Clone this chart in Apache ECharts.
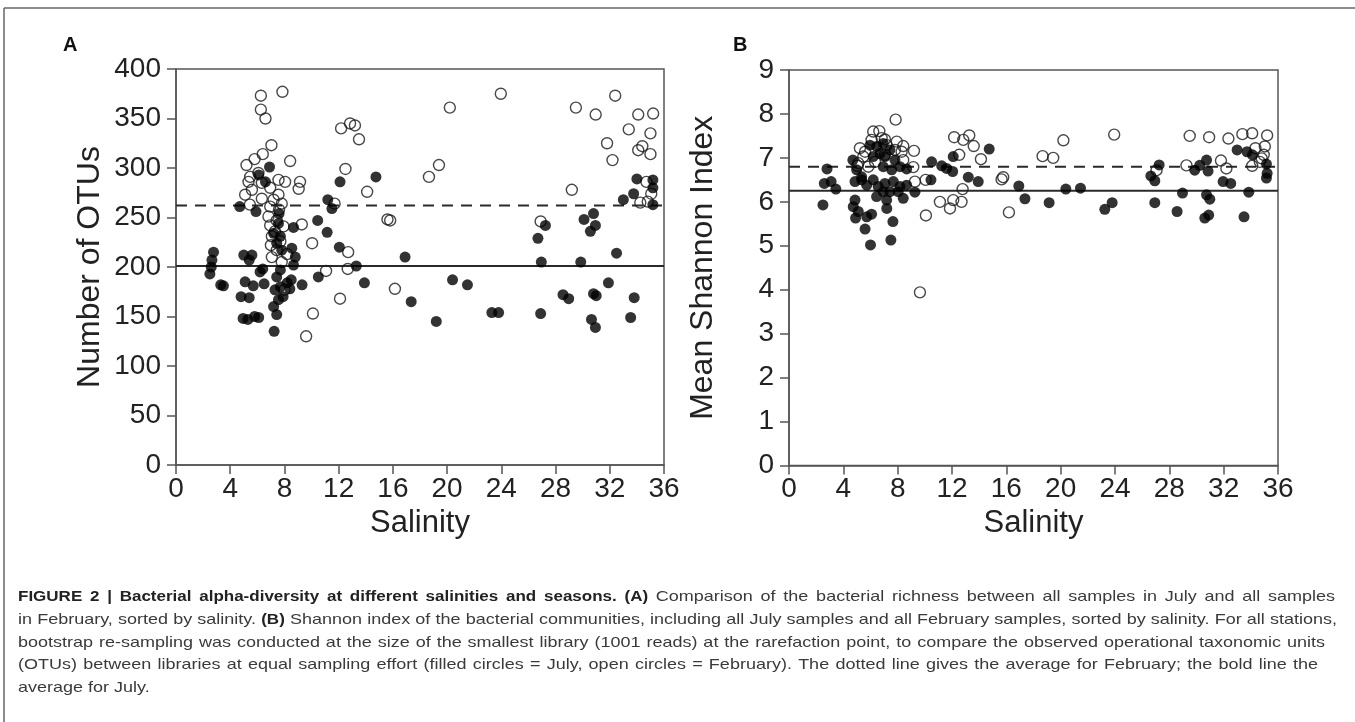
<!DOCTYPE html>
<html>
<head>
<meta charset="utf-8">
<script src="https://cdn.jsdelivr.net/npm/echarts@6/dist/echarts.min.js"></script>
<style>
html,body{margin:0;padding:0;background:#fff;}
#c{width:1355px;height:722px;}
</style>
</head>
<body>
<div id="c"></div>
<script>
// ---------- DATA ----------
const xTicks = [0, 4, 8, 12, 16, 20, 24, 28, 32, 36];
const otuTicks = [0, 50, 100, 150, 200, 250, 300, 350, 400];
const shannonTicks = [0, 1, 2, 3, 4, 5, 6, 7, 8, 9];

// Panel A: number of OTUs  [salinity, OTUs]
const otuJuly = [
  [2.5,193],[2.6,200],[2.65,207],[2.77,215],[3.3,182],[3.5,181],
  [4.7,261],[5.9,256],[5.0,212],[5.6,212],[5.4,207],
  [6.2,195],[6.4,198],[6.5,183],[5.1,185],[5.7,181],[4.8,170],[5.4,169],
  [4.95,148],[5.3,147],[5.8,150],[6.1,149],[7.24,135],
  [6.1,293],[6.9,301],[6.6,286],
  [7.6,254],[7.56,244],[7.2,234],[7.7,231],[7.43,224],[7.8,217],
  [8.54,219],[8.8,210],[8.67,202],[7.7,197],[7.43,190],[7.7,180],[7.3,177],
  [7.56,167],[7.2,160],[7.43,152],[7.9,170],[8.2,184],[8.4,178],[9.3,182],[8.5,187],
  [8.67,240],[10.45,247],[11.15,235],[10.5,190],[11.2,268],[11.5,259],
  [12.1,286],[12.05,220],[13.3,201],[13.9,184],[14.75,291],
  [16.9,210],[17.35,165],[19.2,145],[20.4,187],[21.5,182],[23.3,154],[23.8,154],
  [26.7,229],[27.25,242],[26.95,205],[26.9,153],[28.55,172],[28.97,168],[29.86,205],
  [30.1,248],[30.8,254],[30.57,236],[30.94,242],[30.8,173],[31.0,171],[30.65,147],[30.94,139],
  [31.9,184],[32.5,214],[33.8,169],[33.54,149],[33.0,268],[33.76,274],[34.0,289],
  [35.18,288],[35.18,280],[35.18,263]
];
const otuFeb = [
  [6.26,373],[7.85,377],[6.26,359],[6.6,350],[7.04,323],[6.4,314],[5.8,309],[5.2,303],
  [8.42,307],[5.47,291],[5.35,286],[5.6,278],[5.1,273],[6.33,269],[6.95,280],[7.56,288],
  [8.05,286],[7.56,273],[7.8,264],[6.95,261],[9.15,286],[9.05,279],[5.45,263],[9.28,243],
  [6.82,251],[6.95,242],[7.43,247],[6.33,285],[6.08,295],[7.07,231],[7.43,217],[7.07,210],
  [7.93,241],[7.2,268],[7.6,258],[7.3,236],[7.7,226],[7.0,222],[7.8,205],[8.2,213],
  [10.04,224],[12.7,215],[11.07,196],[12.67,198],[12.1,168],[10.1,153],[9.6,130],[8.0,177],
  [11.7,264],[12.18,340],[12.84,345],[13.2,343],[13.5,329],[12.5,299],
  [20.2,361],[23.96,375],[29.5,361],[30.96,354],[32.4,373],[34.1,354],[35.2,355],
  [33.4,339],[35.0,335],[31.8,325],[34.4,322],[34.1,318],[35.0,314],[32.2,308],
  [18.66,291],[19.4,303],[14.1,276],[29.2,278],[15.6,248],[15.8,247],[26.9,246],[16.15,178],
  [34.7,286],[35.06,274],[34.25,265],[34.8,266]
];
const otuMeanFeb = 262;
const otuMeanJuly = 201;

// Panel B: mean Shannon index  [salinity, index]
const shannonJuly = [
  [2.5,5.93],[2.6,6.42],[2.8,6.75],[3.1,6.46],[3.45,6.29],
  [4.7,6.95],[4.86,6.46],[5.35,6.5],[5.72,6.38],[4.98,6.73],[5.35,6.57],[4.86,6.04],
  [4.73,5.89],[5.1,5.78],[4.9,5.63],[5.72,5.66],[6.08,5.72],[5.6,5.38],[6.0,5.02],
  [7.2,5.85],[7.65,5.55],[7.5,5.13],
  [6.7,7.1],[7.06,7.03],[7.43,7.18],[7.8,6.95],[5.96,7.29],[6.45,7.26],[6.94,7.33],[6.2,7.03],
  [6.94,6.8],[7.56,6.73],[8.17,6.8],[8.66,6.75],
  [7.06,6.42],[7.68,6.46],[8.17,6.35],[8.66,6.38],[9.27,6.22],
  [7.43,6.23],[8.04,6.23],[8.41,6.08],[6.2,6.5],[6.57,6.35],[6.94,6.23],[7.19,6.04],[6.45,6.12],
  [10.5,6.91],[10.45,6.5],[11.24,6.82],[11.6,6.76],[12.09,7.03],[12.05,6.69],[13.2,6.56],
  [13.93,6.46],[14.74,7.2],[16.92,6.36],[17.37,6.07],[19.15,5.98],[20.38,6.29],[21.46,6.31],
  [23.25,5.83],[23.79,5.98],
  [26.64,6.59],[26.93,6.48],[27.25,6.84],[26.93,5.98],[28.97,6.2],[28.57,5.78],
  [29.87,6.72],[30.24,6.83],[30.74,6.95],[30.85,6.7],[30.74,6.16],[30.98,6.06],[30.61,5.63],[30.9,5.7],
  [31.96,6.46],[32.52,6.42],[33.85,6.22],[33.5,5.66],[32.99,7.18],[33.72,7.14],[34.12,7.07],
  [35.15,6.86],[35.2,6.65],[35.15,6.54]
];
const shannonFeb = [
  [7.85,7.87],[6.2,7.6],[6.65,7.61],[7.06,7.42],[7.93,7.37],[8.41,7.27],[9.2,7.16],
  [5.22,7.22],[5.47,7.03],[5.03,6.82],[9.15,6.79],[9.27,6.46],[10.06,6.5],[10.08,5.69],[9.64,3.94],
  [12.16,7.47],[12.83,7.41],[13.27,7.51],[12.53,7.07],[12.78,6.29],[11.11,6.0],[11.85,5.85],
  [12.09,6.04],[12.7,6.0],[13.6,7.27],[14.13,6.97],[15.65,6.51],[15.77,6.56],[16.19,5.76],
  [18.67,7.04],[19.45,7.0],[20.2,7.4],[23.94,7.53],
  [27.06,6.72],[29.26,6.83],[29.5,7.5],[30.93,7.47],[31.8,6.94],[32.2,6.76],[32.35,7.44],
  [33.38,7.54],[34.1,7.56],[35.2,7.51],[34.34,7.22],[35.03,7.26],[34.1,6.82],[34.66,6.91],
  [34.95,7.07],[34.8,6.99],
  [5.6,7.14],[6.08,7.41],[6.82,7.45],[7.19,7.29],[8.29,7.14],[5.1,6.88],[5.84,6.8],
  [6.33,6.91],[7.06,7.07],[7.8,7.18],[8.41,6.95]
];
const shannonMeanFeb = 6.80;
const shannonMeanJuly = 6.25;

const panelLabels = ['A', 'B'];
const yNames = ['Number of OTUs', 'Mean Shannon Index'];
const xName = 'Salinity';

const captionLines = [
  '{b|FIGURE 2 | Bacterial alpha-diversity at different salinities and seasons. (A)} Comparison of the bacterial richness between all samples in July and all samples',
  'in February, sorted by salinity. {b|(B)} Shannon index of the bacterial communities, including all July samples and all February samples, sorted by salinity. For all stations,',
  'bootstrap re-sampling was conducted at the size of the smallest library (1001 reads) at the rarefaction point, to compare the observed operational taxonomic units',
  '(OTUs) between libraries at equal sampling effort (filled circles = July, open circles = February). The dotted line gives the average for February; the bold line the',
  'average for July.'
];
// right end of each caption line in the original layout (null = natural width)
const captionLineEnds = [1335, 1337, 1325, 1318, null];

// ---------- CHART ----------
const FONT = '"Liberation Sans", Arial, Helvetica, sans-serif';
const AX = '#555';
const chart = echarts.init(document.getElementById('c'), null, {renderer: 'canvas'});

function xAxisCfg(gi) {
  return {
    gridIndex: gi, type: 'value', min: xTicks[0], max: xTicks[xTicks.length - 1], interval: 4,
    name: xName, nameLocation: 'middle', nameGap: 34,
    nameTextStyle: {fontFamily: FONT, fontSize: 31, color: '#222'},
    axisLine: {show: true, onZero: false, lineStyle: {color: AX, width: 1.5}},
    axisTick: {show: true, inside: false, length: 9, lineStyle: {color: AX, width: 1.5}},
    axisLabel: {fontFamily: FONT, fontSize: 28, color: '#222', margin: 10},
    splitLine: {show: false}
  };
}
function yAxisCfg(gi, ticks, name) {
  return {
    gridIndex: gi, type: 'value', min: ticks[0], max: ticks[ticks.length - 1],
    interval: ticks[1] - ticks[0],
    name: name, nameLocation: 'middle', nameGap: 70, nameRotate: 90,
    nameTextStyle: {fontFamily: FONT, fontSize: 32, color: '#222'},
    axisLine: {show: true, onZero: false, lineStyle: {color: AX, width: 1.5}},
    axisTick: {show: true, inside: false, length: 9, lineStyle: {color: AX, width: 1.5}},
    axisLabel: {fontFamily: FONT, fontSize: 28, color: '#222', margin: 15},
    splitLine: {show: false}
  };
}
const openStyle = {color: 'rgba(255,255,255,0)', borderColor: '#1a1a1a', borderWidth: 1.4};
const fillStyle = {color: '#000', borderColor: '#000', borderWidth: 0};
const SYM = 11;

function meanLine(gi, val, dashed) {
  return {
    type: 'line', xAxisIndex: gi, yAxisIndex: gi, silent: true, symbol: 'none',
    data: [[xTicks[0], val], [xTicks[xTicks.length - 1], val]],
    lineStyle: {color: '#2a2a2a', width: 2, type: dashed ? [11, 8] : 'solid'},
    z: 1
  };
}

// caption: word-by-word layout, justified to the original line ends,
// glyphs slightly compressed vertically to match the original wide face
const CAP_REG = 18, CAP_BOLD = 17, CAP_SY = 0.84;
const CAP_LEFT = 18;
const mctx = document.createElement('canvas').getContext('2d');
function capFont(bold) { return (bold ? 'bold ' + CAP_BOLD : CAP_REG) + 'px ' + FONT; }
function wordWidth(w, bold) { mctx.font = capFont(bold); return mctx.measureText(w).width; }
function parseLine(line) {
  const segs = [];
  const re = /\{b\|([^}]*)\}|([^{]+)/g;
  let m;
  while ((m = re.exec(line)) !== null) {
    if (m[1] !== undefined) segs.push({t: m[1], b: true});
    else segs.push({t: m[2], b: false});
  }
  const words = [];
  segs.forEach(s => s.t.split(' ').forEach(w => { if (w.length) words.push({t: w, b: s.b}); }));
  return words;
}
const captionGraphics = [];
captionLines.forEach((line, i) => {
  const words = parseLine(line);
  const widths = words.map(w => wordWidth(w.t, w.b));
  const total = widths.reduce((a, b) => a + b, 0);
  const end = captionLineEnds[i];
  const gap = (end != null && words.length > 1)
    ? (end - CAP_LEFT - total) / (words.length - 1)
    : wordWidth(' ', false);
  let x = CAP_LEFT;
  words.forEach((w, k) => {
    captionGraphics.push({
      type: 'text', x: x, y: 597 + i * 22.7, scaleY: CAP_SY,
      style: {
        text: w.t, fill: w.b ? '#222' : '#3a3a3a', font: capFont(w.b),
        textVerticalAlign: 'middle', verticalAlign: 'middle'
      }
    });
    x += widths[k] + gap;
  });
});

chart.setOption({
  animation: false,
  backgroundColor: '#fff',
  grid: [
    {left: 176, top: 69, width: 488, height: 396, show: true, borderColor: AX, borderWidth: 1.5},
    {left: 789, top: 70, width: 489, height: 395.5, show: true, borderColor: AX, borderWidth: 1.5}
  ],
  xAxis: [xAxisCfg(0), xAxisCfg(1)],
  yAxis: [yAxisCfg(0, otuTicks, yNames[0]), yAxisCfg(1, shannonTicks, yNames[1])],
  series: [
    meanLine(0, otuMeanFeb, true), meanLine(0, otuMeanJuly, false),
    {type: 'scatter', xAxisIndex: 0, yAxisIndex: 0, symbol: 'circle', symbolSize: SYM, data: otuFeb, itemStyle: openStyle, z: 2},
    {type: 'scatter', xAxisIndex: 0, yAxisIndex: 0, symbol: 'circle', symbolSize: SYM, data: otuJuly, itemStyle: fillStyle, z: 3},
    meanLine(1, shannonMeanFeb, true), meanLine(1, shannonMeanJuly, false),
    {type: 'scatter', xAxisIndex: 1, yAxisIndex: 1, symbol: 'circle', symbolSize: SYM, data: shannonFeb, itemStyle: openStyle, z: 2},
    {type: 'scatter', xAxisIndex: 1, yAxisIndex: 1, symbol: 'circle', symbolSize: SYM, data: shannonJuly, itemStyle: fillStyle, z: 3}
  ],
  graphic: [
    {type: 'line', shape: {x1: 4, y1: 8, x2: 1355, y2: 8}, style: {stroke: '#666', lineWidth: 1.5}},
    {type: 'line', shape: {x1: 4, y1: 8, x2: 4, y2: 722}, style: {stroke: '#666', lineWidth: 1.5}},
    {type: 'text', left: 63, top: 35, style: {text: panelLabels[0], font: 'bold 20px ' + FONT, fill: '#111'}},
    {type: 'text', left: 733, top: 35, style: {text: panelLabels[1], font: 'bold 20px ' + FONT, fill: '#111'}}
  ].concat(captionGraphics)
});
</script>
</body>
</html>
